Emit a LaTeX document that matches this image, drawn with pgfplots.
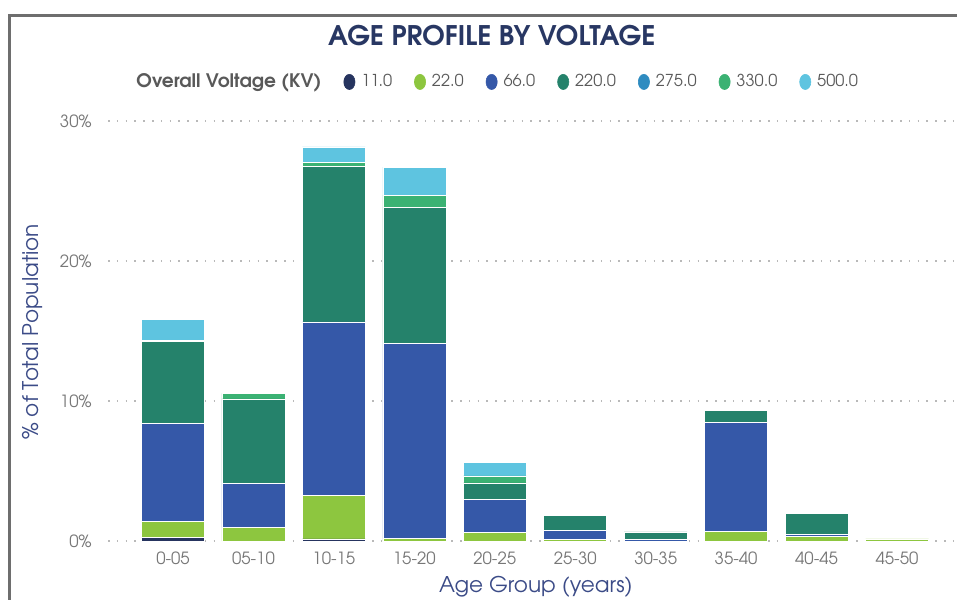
\documentclass[border=0pt]{standalone}
\usepackage{fontspec}
\setmainfont{texgyreadventor}[Extension=.otf,UprightFont=*-regular,BoldFont=*-bold,ItalicFont=*-italic,BoldItalicFont=*-bolditalic]
\usepackage{pgfplots}
\usepackage{pgfplotstable}
\pgfplotsset{compat=1.18}
\definecolor{c11}{HTML}{26345F}
\definecolor{c22}{HTML}{8DC63F}
\definecolor{c66}{HTML}{3558A8}
\definecolor{c220}{HTML}{25826B}
\definecolor{c275}{HTML}{2E8BC0}
\definecolor{c330}{HTML}{3BB273}
\definecolor{c500}{HTML}{5EC4E0}
\definecolor{titlec}{HTML}{283763}
\definecolor{labc}{HTML}{3B4B87}
\definecolor{tickc}{HTML}{777777}
\definecolor{legc}{HTML}{595959}
\definecolor{framec}{HTML}{6E6E6E}
\pgfplotstableread{
x v11 v22 v66 v220 v275 v330 v500
0 0.25 1.15 7.00 5.85 0.00 0.10 1.50
1 0.00 0.95 3.15 6.05 0.00 0.40 0.00
2 0.15 3.10 12.40 11.10 0.00 0.30 1.10
3 0.00 0.20 13.90 9.70 0.00 0.90 2.00
4 0.00 0.60 2.40 1.15 0.00 0.50 0.95
5 0.00 0.10 0.65 1.10 0.05 0.05 0.00
6 0.00 0.00 0.10 0.55 0.05 0.05 0.00
7 0.00 0.70 7.75 0.90 0.00 0.00 0.00
8 0.00 0.35 0.10 1.50 0.00 0.00 0.00
9 0.00 0.15 0.00 0.00 0.00 0.00 0.00
}\datatable
\pgfplotsset{dot/.style={legend image code/.code={\fill[#1] (2.8pt,0pt) ellipse (2.8pt and 3.8pt);}}}
\begin{document}
\begin{tikzpicture}
\useasboundingbox (0pt,0pt) rectangle (478.5pt,299.5pt);
\draw[framec, line width=1.6pt] (4.75pt,-2pt) -- (4.75pt,291.75pt) -- (482pt,291.75pt);
\begin{axis}[
  at={(54pt,29pt)}, anchor=south west,
  scale only axis, width=424.5pt, height=210pt,
  ymin=0, ymax=30, xmin=-0.808, xmax=9.746,
  ybar stacked, bar width=31.5pt,
  axis line style={draw=none},
  major tick length=0pt,
  xtick=data,
  xticklabels={0-05,05-10,10-15,15-20,20-25,25-30,30-35,35-40,40-45,45-50},
  ytick={0,10,20,30},
  yticklabels={0\%,10\%,20\%,30\%},
  /pgf/number format/assume math mode=true,
  ymajorgrids,
  grid style={draw=gray!55, line width=0.8pt, dash pattern=on 0.8pt off 3.6pt},
  ticklabel style={font=\fontsize{8.4}{10}\selectfont, text=tickc, inner sep=0pt},
  xticklabel style={anchor=center, yshift=-8.5pt},
  yticklabel style={anchor=east, xshift=-8pt},
  title={AGE PROFILE BY VOLTAGE},
  title style={at={(axis description cs:0.452,1.174)}, anchor=center, font=\bfseries\fontsize{13.5}{16}\selectfont, text=titlec},
  xlabel={Age Group (years)},
  xlabel style={at={(axis description cs:0.504,-0.1095)}, anchor=center, font=\fontsize{10.8}{13}\selectfont, text=labc},
  ylabel={\% of Total Population},
  ylabel style={at={(axis description cs:-0.0895,0.498)}, anchor=center, font=\fontsize{10.8}{13}\selectfont, text=labc},
  legend columns=-1,
  legend style={at={(axis description cs:0.026,1.093)}, anchor=west, draw=none, fill=none, inner sep=0pt,
    font=\fontsize{8.2}{10}\selectfont, text=legc,
    /tikz/every even column/.append style={column sep=9pt},
    /tikz/every odd column/.append style={column sep=1pt}},
  every axis plot/.append style={draw=white, line width=0.3pt},
]
\addlegendimage{empty legend}
\addlegendentry{\fontsize{9.3}{11}\selectfont\bfseries Overall Voltage (KV)}
\addplot[fill=c11, dot=c11] table[x=x,y=v11] {\datatable};
\addlegendentry{11.0}
\addplot[fill=c22, dot=c22] table[x=x,y=v22] {\datatable};
\addlegendentry{22.0}
\addplot[fill=c66, dot=c66] table[x=x,y=v66] {\datatable};
\addlegendentry{66.0}
\addplot[fill=c220, dot=c220] table[x=x,y=v220] {\datatable};
\addlegendentry{220.0}
\addplot[fill=c275, dot=c275] table[x=x,y=v275] {\datatable};
\addlegendentry{275.0}
\addplot[fill=c330, dot=c330] table[x=x,y=v330] {\datatable};
\addlegendentry{330.0}
\addplot[fill=c500, dot=c500] table[x=x,y=v500] {\datatable};
\addlegendentry{500.0}
\end{axis}
\end{tikzpicture}
\end{document}
